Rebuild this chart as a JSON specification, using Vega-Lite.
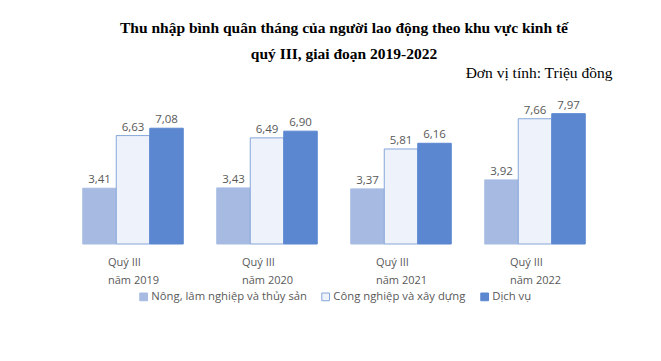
{
  "$schema": "https://vega.github.io/schema/vega-lite/v6.json",
  "autosize": "none",
  "width": 536,
  "height": 139,
  "padding": {"left": 66, "top": 105, "right": 59, "bottom": 117},
  "background": "white",
  "config": {
    "view": {"stroke": null},
    "locale": {"number": {"decimal": ",", "thousands": ".", "grouping": [3], "currency": ["", " đ"]}}
  },
  "title": {
    "text": ["Thu nhập bình quân tháng của người lao động theo khu vực kinh tế", "quý III, giai đoạn 2019-2022"],
    "font": "Liberation Serif",
    "fontSize": 15.5,
    "fontWeight": "bold",
    "color": "black",
    "lineHeight": 26,
    "anchor": "middle",
    "dx": 10,
    "offset": 3
  },
  "data": {
    "values": [
      {"period": "Quý III|năm 2019", "sector": "Nông, lâm nghiệp và thủy sản", "value": 3.41},
      {"period": "Quý III|năm 2019", "sector": "Công nghiệp và xây dựng", "value": 6.63},
      {"period": "Quý III|năm 2019", "sector": "Dịch vụ", "value": 7.08},
      {"period": "Quý III|năm 2020", "sector": "Nông, lâm nghiệp và thủy sản", "value": 3.43},
      {"period": "Quý III|năm 2020", "sector": "Công nghiệp và xây dựng", "value": 6.49},
      {"period": "Quý III|năm 2020", "sector": "Dịch vụ", "value": 6.90},
      {"period": "Quý III|năm 2021", "sector": "Nông, lâm nghiệp và thủy sản", "value": 3.37},
      {"period": "Quý III|năm 2021", "sector": "Công nghiệp và xây dựng", "value": 5.81},
      {"period": "Quý III|năm 2021", "sector": "Dịch vụ", "value": 6.16},
      {"period": "Quý III|năm 2022", "sector": "Nông, lâm nghiệp và thủy sản", "value": 3.92},
      {"period": "Quý III|năm 2022", "sector": "Công nghiệp và xây dựng", "value": 7.66},
      {"period": "Quý III|năm 2022", "sector": "Dịch vụ", "value": 7.97}
    ]
  },
  "encoding": {
    "x": {
      "field": "period",
      "type": "nominal",
      "sort": null,
      "scale": {"paddingInner": 0.25, "paddingOuter": 0.125},
      "axis": {
        "title": null,
        "domain": false,
        "ticks": false,
        "labelAngle": 0,
        "labelExpr": "split(datum.value, '|')",
        "labelAlign": "left",
        "labelOffset": -25,
        "labelPadding": 12,
        "labelLineHeight": 18,
        "labelFont": "Open Sans",
        "labelFontSize": 11,
        "labelColor": "#595959"
      }
    },
    "xOffset": {
      "field": "sector",
      "type": "nominal",
      "sort": ["Nông, lâm nghiệp và thủy sản", "Công nghiệp và xây dựng", "Dịch vụ"],
      "scale": {"paddingInner": 0, "paddingOuter": 0}
    },
    "y": {
      "field": "value",
      "type": "quantitative",
      "scale": {"domain": [0, 8.5], "nice": false},
      "axis": {
        "labels": false,
        "ticks": false,
        "domain": false,
        "grid": false,
        "title": "Đơn vị tính: Triệu đồng",
        "titleAngle": 0,
        "titleAlign": "right",
        "titleBaseline": "alphabetic",
        "titleX": 546,
        "titleY": -28,
        "titleFont": "Liberation Serif",
        "titleFontSize": 15.5,
        "titleFontWeight": "normal",
        "titleColor": "black"
      }
    }
  },
  "layer": [
    {
      "mark": {"type": "bar", "strokeWidth": 1},
      "encoding": {
        "color": {
          "field": "sector",
          "type": "nominal",
          "sort": ["Nông, lâm nghiệp và thủy sản", "Công nghiệp và xây dựng", "Dịch vụ"],
          "scale": {
            "domain": ["Nông, lâm nghiệp và thủy sản", "Công nghiệp và xây dựng", "Dịch vụ"],
            "range": ["#A7BBE2", "#EEF2FA", "#5B87D0"]
          },
          "legend": {
            "title": null,
            "orient": "none",
            "direction": "horizontal",
            "legendX": 72,
            "legendY": 186,
            "symbolType": "square",
            "symbolSize": 60,
            "symbolStrokeWidth": 1,
            "labelFont": "Open Sans",
            "labelFontSize": 11.3,
            "labelColor": "#595959",
            "labelLimit": 400,
            "columnPadding": 12,
            "labelOffset": 2
          }
        },
        "stroke": {
          "field": "sector",
          "type": "nominal",
          "sort": ["Nông, lâm nghiệp và thủy sản", "Công nghiệp và xây dựng", "Dịch vụ"],
          "scale": {
            "domain": ["Nông, lâm nghiệp và thủy sản", "Công nghiệp và xây dựng", "Dịch vụ"],
            "range": ["#A7BBE2", "#86A6DA", "#5B87D0"]
          }
        }
      }
    },
    {
      "mark": {"type": "text", "baseline": "bottom", "dy": -3, "font": "Open Sans", "fontSize": 11.5, "color": "#595959"},
      "encoding": {
        "text": {"field": "value", "type": "quantitative", "format": ".2f"}
      }
    }
  ]
}
